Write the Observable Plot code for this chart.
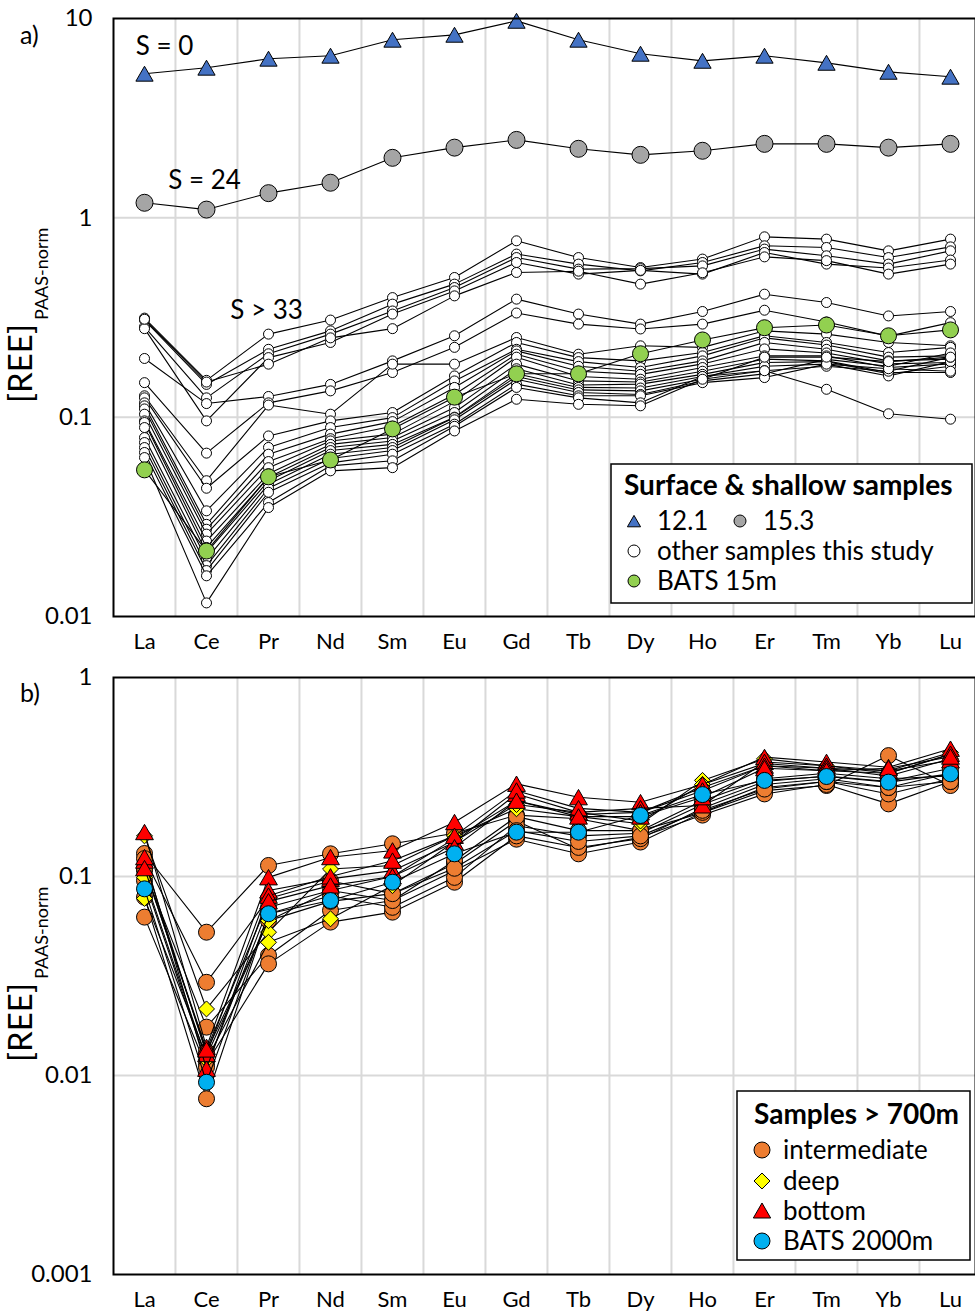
<!DOCTYPE html>
<html><head><meta charset="utf-8">
<script src="https://cdn.jsdelivr.net/npm/d3@7"></script>
<script src="https://cdn.jsdelivr.net/npm/@observablehq/plot@0.6"></script>
<style>
body{margin:0;background:#fff;}
#wrap{position:relative;width:975px;height:1313px;overflow:hidden;font-family:Lato,sans-serif;}
</style></head><body><div id="wrap"></div>
<script>
// ---------- categories & ticks ----------
const elements = ["La","Ce","Pr","Nd","Sm","Eu","Gd","Tb","Dy","Ho","Er","Tm","Yb","Lu"];
const yTicksA = [0.01, 0.1, 1, 10];
const yTicksB = [0.001, 0.01, 0.1, 1];

// ---------- panel a: surface & shallow samples ----------
const sample12_1 = [5.28, 5.66, 6.28, 6.50, 7.82, 8.28, 9.73, 7.82, 6.65, 6.13, 6.50, 5.99, 5.40, 5.10];
const sample15_3 = [1.19, 1.10, 1.33, 1.50, 2.00, 2.25, 2.46, 2.22, 2.07, 2.17, 2.35, 2.35, 2.25, 2.35];
const bats15m    = [0.0544, 0.0213, 0.0502, 0.061, 0.0873, 0.126, 0.165, 0.165, 0.208, 0.244, 0.281, 0.290, 0.256, 0.274];
const otherSamples = [
  [0.314, 0.153, 0.261, 0.307, 0.398, 0.502, 0.767, 0.632, 0.563, 0.621, 0.803, 0.782, 0.683, 0.782],
  [0.307, 0.146, 0.219, 0.271, 0.369, 0.465, 0.658, 0.586, 0.542, 0.597, 0.724, 0.710, 0.632, 0.715],
  [0.284, 0.125, 0.208, 0.261, 0.341, 0.447, 0.632, 0.553, 0.556, 0.574, 0.697, 0.645, 0.586, 0.683],
  [0.278, 0.0958, 0.199, 0.237, 0.329, 0.430, 0.597, 0.522, 0.545, 0.522, 0.670, 0.586, 0.560, 0.614],
  [0.310, 0.150, 0.1845, 0.250, 0.278, 0.406, 0.532, 0.540, 0.465, 0.530, 0.637, 0.610, 0.522, 0.586],
  [0.197, 0.117, 0.127, 0.146, 0.1916, 0.256, 0.391, 0.329, 0.293, 0.339, 0.414, 0.376, 0.322, 0.339],
  [0.149, 0.066, 0.118, 0.1355, 0.1675, 0.224, 0.333, 0.293, 0.277, 0.293, 0.344, 0.300, 0.255, 0.298],
  [0.128, 0.048, 0.115, 0.1035, 0.1845, 0.1845, 0.251, 0.207, 0.228, 0.224, 0.271, 0.261, 0.237, 0.228],
  [0.125, 0.044, 0.0805, 0.0958, 0.1055, 0.161, 0.237, 0.199, 0.1916, 0.211, 0.256, 0.237, 0.211, 0.224],
  [0.118, 0.0339, 0.0705, 0.0887, 0.0995, 0.152, 0.219, 0.190, 0.1774, 0.203, 0.250, 0.230, 0.200, 0.203],
  [0.114, 0.029, 0.0652, 0.0822, 0.095, 0.141, 0.215, 0.180, 0.170, 0.1916, 0.237, 0.219, 0.1916, 0.1955],
  [0.110, 0.0274, 0.0599, 0.078, 0.090, 0.130, 0.207, 0.170, 0.164, 0.185, 0.220, 0.210, 0.185, 0.188],
  [0.1035, 0.0259, 0.0558, 0.076, 0.0822, 0.120, 0.200, 0.160, 0.155, 0.1774, 0.203, 0.203, 0.1774, 0.185],
  [0.0958, 0.0239, 0.052, 0.073, 0.079, 0.1117, 0.1845, 0.152, 0.150, 0.170, 0.1955, 0.1916, 0.1675, 0.1675],
  [0.094, 0.0222, 0.050, 0.0704, 0.076, 0.1055, 0.175, 0.145, 0.1465, 0.164, 0.188, 0.190, 0.165, 0.180],
  [0.0887, 0.0209, 0.048, 0.068, 0.073, 0.100, 0.165, 0.141, 0.140, 0.160, 0.180, 0.1845, 0.161, 0.190],
  [0.079, 0.0194, 0.0461, 0.0652, 0.0704, 0.0995, 0.160, 0.137, 0.1355, 0.155, 0.171, 0.180, 0.170, 0.200],
  [0.0746, 0.018, 0.044, 0.062, 0.068, 0.097, 0.155, 0.133, 0.130, 0.152, 0.165, 0.195, 0.180, 0.210],
  [0.0704, 0.017, 0.042, 0.059, 0.0652, 0.0922, 0.1465, 0.128, 0.128, 0.149, 0.158, 0.1845, 0.175, 0.170],
  [0.0665, 0.016, 0.0373, 0.057, 0.0604, 0.090, 0.141, 0.125, 0.118, 0.160, 0.171, 0.138, 0.104, 0.0977],
  [0.0627, 0.0117, 0.0352, 0.0538, 0.0558, 0.0853, 0.123, 0.116, 0.114, 0.155, 0.200, 0.200, 0.190, 0.200]
];
const annotationsA = [
  {text: "S = 0",  element: "La", value: 7.21, shift: 20},
  {text: "S = 24", element: "Ce", value: 1.53, shift: -2},
  {text: "S > 33", element: "Pr", value: 0.341, shift: -2}
];

// ---------- panel b: samples > 700 m ----------
const intermediate = [
  [0.1305, 0.0525, 0.1136, 0.130, 0.146, 0.165, 0.2035, 0.195, 0.170, 0.209, 0.270, 0.2866, 0.405, 0.2866],
  [0.123, 0.0294, 0.0776, 0.095, 0.082, 0.116, 0.190, 0.1376, 0.1576, 0.2035, 0.260, 0.290, 0.2317, 0.300],
  [0.107, 0.0175, 0.0401, 0.0675, 0.0757, 0.107, 0.154, 0.130, 0.149, 0.210, 0.280, 0.300, 0.260, 0.310],
  [0.0954, 0.0115, 0.0364, 0.059, 0.0662, 0.0936, 0.160, 0.140, 0.155, 0.220, 0.290, 0.310, 0.280, 0.330],
  [0.0787, 0.00764, 0.065, 0.080, 0.070, 0.099, 0.180, 0.160, 0.165, 0.230, 0.300, 0.320, 0.300, 0.350],
  [0.0625, 0.011, 0.070, 0.085, 0.0757, 0.120, 0.200, 0.170, 0.170, 0.240, 0.310, 0.330, 0.310, 0.320],
  [0.110, 0.0132, 0.060, 0.075, 0.082, 0.110, 0.170, 0.150, 0.160, 0.215, 0.275, 0.300, 0.280, 0.300]
];
const deep = [
  [0.160, 0.0216, 0.0525, 0.109, 0.1136, 0.160, 0.219, 0.200, 0.184, 0.304, 0.390, 0.360, 0.340, 0.420],
  [0.099, 0.012, 0.0467, 0.0613, 0.090, 0.150, 0.230, 0.210, 0.190, 0.290, 0.370, 0.350, 0.320, 0.390],
  [0.0776, 0.0125, 0.060, 0.085, 0.100, 0.155, 0.240, 0.205, 0.210, 0.280, 0.360, 0.340, 0.330, 0.410]
];
const bottom = [
  [0.167, 0.0139, 0.099, 0.125, 0.135, 0.1875, 0.292, 0.250, 0.236, 0.290, 0.398, 0.376, 0.354, 0.438],
  [0.120, 0.0128, 0.085, 0.0973, 0.107, 0.1487, 0.260, 0.210, 0.220, 0.2275, 0.376, 0.360, 0.330, 0.413],
  [0.125, 0.0108, 0.080, 0.100, 0.120, 0.160, 0.270, 0.220, 0.210, 0.270, 0.360, 0.350, 0.340, 0.383],
  [0.110, 0.0135, 0.075, 0.090, 0.100, 0.140, 0.240, 0.200, 0.200, 0.250, 0.350, 0.340, 0.350, 0.400]
];
const bats2000m = [0.0867, 0.00925, 0.065, 0.0757, 0.0936, 0.130, 0.167, 0.167, 0.2026, 0.258, 0.304, 0.318, 0.298, 0.328];

// ---------- helpers ----------
const toRows = (vals) => vals.map((v, i) => ({element: elements[i], value: v}));
const X0 = 112, X1 = 981, W = 975;
const step = (X1 - X0) / elements.length;
const FONT = "Lato, sans-serif";

function seriesMarks(vals, o) {
  const rows = toRows(vals);
  return [
    Plot.line(rows, {x: "element", y: "value", stroke: "black", strokeWidth: 1.1}),
    Plot.dot(rows, {x: "element", y: "value", symbol: o.symbol, r: o.r, fill: o.fill,
      stroke: "black", strokeWidth: 1, dy: o.dy || 0})
  ];
}
function gridMarks(hLines) {
  return [
    Plot.ruleX(elements.slice(1), {dx: -step / 2, stroke: "#d9d9d9", strokeWidth: 2}),
    Plot.ruleY(hLines, {stroke: "#d9d9d9", strokeWidth: 2})
  ];
}
function axes(ticks) {
  return [
    Plot.axisX({tickSize: 0, tickPadding: 17, fontSize: 22, label: null}),
    Plot.axisY({ticks, tickFormat: d => String(d), tickSize: 0, tickPadding: 21, fontSize: 24, label: null})
  ];
}

// ---------- panel a ----------
const plotA = Plot.plot({
  width: W, height: 660, marginTop: 18, marginBottom: 44, marginLeft: 113, marginRight: 0,
  style: {fontFamily: FONT, color: "black", background: "white", overflow: "hidden"},
  x: {type: "point", domain: elements, padding: 0.5, range: [X0, X1]},
  y: {type: "log", domain: [0.01, 10]},
  marks: [
    ...gridMarks([0.1, 1]),
    ...otherSamples.flatMap(s => seriesMarks(s, {symbol: "circle", r: 5, fill: "white"})),
    ...seriesMarks(bats15m, {symbol: "circle", r: 8, fill: "#92D050"}),
    ...seriesMarks(sample15_3, {symbol: "circle", r: 8.5, fill: "#A5A5A5"}),
    ...seriesMarks(sample12_1, {symbol: "triangle", r: 6.4, fill: "#4472C4", dy: 2.4}),
    Plot.text(annotationsA, {x: "element", y: "value", text: "text", fontSize: 26, fill: "black"}),
    Plot.frame({stroke: "black", strokeWidth: 2}),
    ...axes(yTicksA)
  ]
});

// ---------- panel b ----------
const plotB = Plot.plot({
  width: W, height: 653, marginTop: 17, marginBottom: 39, marginLeft: 113, marginRight: 0,
  style: {fontFamily: FONT, color: "black", background: "white", overflow: "hidden"},
  x: {type: "point", domain: elements, padding: 0.5, range: [X0, X1]},
  y: {type: "log", domain: [0.001, 1]},
  marks: [
    ...gridMarks([0.01, 0.1]),
    ...intermediate.flatMap(s => seriesMarks(s, {symbol: "circle", r: 8, fill: "#ED7D31"})),
    ...deep.flatMap(s => seriesMarks(s, {symbol: "diamond2", r: 7.2, fill: "#FFFF00"})),
    ...bottom.flatMap(s => seriesMarks(s, {symbol: "triangle", r: 6.6, fill: "#FF0000", dy: 2.4})),
    ...seriesMarks(bats2000m, {symbol: "circle", r: 8, fill: "#00B0F0"}),
    Plot.frame({stroke: "black", strokeWidth: 2}),
    ...axes(yTicksB)
  ]
});

const wrap = document.getElementById("wrap");
[plotA, plotB].forEach((p, i) => {
  p.style.position = "absolute";
  p.style.left = "0px";
  p.style.top = (i === 0 ? 0 : 660) + "px";
  wrap.appendChild(p);
});
// annotation horizontal shifts
d3.select(plotA).selectAll("text").filter(function(){ return this.parentNode && this.parentNode.getAttribute("aria-label") === "text"; })
  .each(function(_, i){ const a = annotationsA[i]; if (a) d3.select(this).attr("transform", (d3.select(this).attr("transform")||"") + ` translate(${a.shift},0)`); });

// ---------- overlay: panel letters, axis titles, legends ----------
const ov = d3.select(wrap).append("svg")
  .attr("width", W).attr("height", 1313)
  .style("position", "absolute").style("left", 0).style("top", 0)
  .style("font-family", FONT).style("pointer-events", "none");

ov.append("text").attr("x", 20).attr("y", 44).attr("font-size", 25).text("a)");
ov.append("text").attr("x", 20).attr("y", 702).attr("font-size", 25).text("b)");

function yTitle(yStart) {
  const t = ov.append("text").attr("transform", `translate(32,${yStart}) rotate(-90)`);
  t.append("tspan").attr("font-size", 33).text("[REE]");
  t.append("tspan").attr("font-size", 18).attr("dx", 4).attr("dy", 16).text("PAAS-norm");
}
yTitle(403);
yTitle(1062);

const sym = (type, size) => d3.symbol(type, size)();
const LF = 26;
// legend a
const la = ov.append("g");
la.append("rect").attr("x", 611).attr("y", 464).attr("width", 361).attr("height", 139)
  .attr("fill", "white").attr("stroke", "black").attr("stroke-width", 1.5);
la.append("text").attr("x", 624).attr("y", 495).attr("font-size", 28).attr("font-weight", "bold").text("Surface & shallow samples");
la.append("path").attr("d", sym(d3.symbolTriangle, 75)).attr("transform", "translate(634,523)")
  .attr("fill", "#4472C4").attr("stroke", "black");
la.append("text").attr("x", 657).attr("y", 530).attr("font-size", LF).text("12.1");
la.append("circle").attr("cx", 740).attr("cy", 521).attr("r", 6).attr("fill", "#A5A5A5").attr("stroke", "black");
la.append("text").attr("x", 763).attr("y", 530).attr("font-size", LF).text("15.3");
la.append("circle").attr("cx", 634).attr("cy", 551).attr("r", 6).attr("fill", "white").attr("stroke", "black");
la.append("text").attr("x", 657).attr("y", 560).attr("font-size", LF).text("other samples this study");
la.append("circle").attr("cx", 634).attr("cy", 581).attr("r", 6).attr("fill", "#92D050").attr("stroke", "black");
la.append("text").attr("x", 657).attr("y", 590).attr("font-size", LF).text("BATS 15m");

// legend b
const lb = ov.append("g");
lb.append("rect").attr("x", 737).attr("y", 1091).attr("width", 233).attr("height", 169)
  .attr("fill", "white").attr("stroke", "black").attr("stroke-width", 1.5);
lb.append("text").attr("x", 754).attr("y", 1124).attr("font-size", 28).attr("font-weight", "bold").text("Samples > 700m");
lb.append("circle").attr("cx", 762).attr("cy", 1150).attr("r", 8).attr("fill", "#ED7D31").attr("stroke", "black");
lb.append("text").attr("x", 783).attr("y", 1159).attr("font-size", LF).text("intermediate");
lb.append("path").attr("d", sym(d3.symbolDiamond2, 163)).attr("transform", "translate(762,1181)")
  .attr("fill", "#FFFF00").attr("stroke", "black");
lb.append("text").attr("x", 783).attr("y", 1190).attr("font-size", LF).text("deep");
lb.append("path").attr("d", sym(d3.symbolTriangle, 130)).attr("transform", "translate(762,1213)")
  .attr("fill", "#FF0000").attr("stroke", "black");
lb.append("text").attr("x", 783).attr("y", 1220).attr("font-size", LF).text("bottom");
lb.append("circle").attr("cx", 762).attr("cy", 1241).attr("r", 8).attr("fill", "#00B0F0").attr("stroke", "black");
lb.append("text").attr("x", 783).attr("y", 1250).attr("font-size", LF).text("BATS 2000m");
</script></body></html>
